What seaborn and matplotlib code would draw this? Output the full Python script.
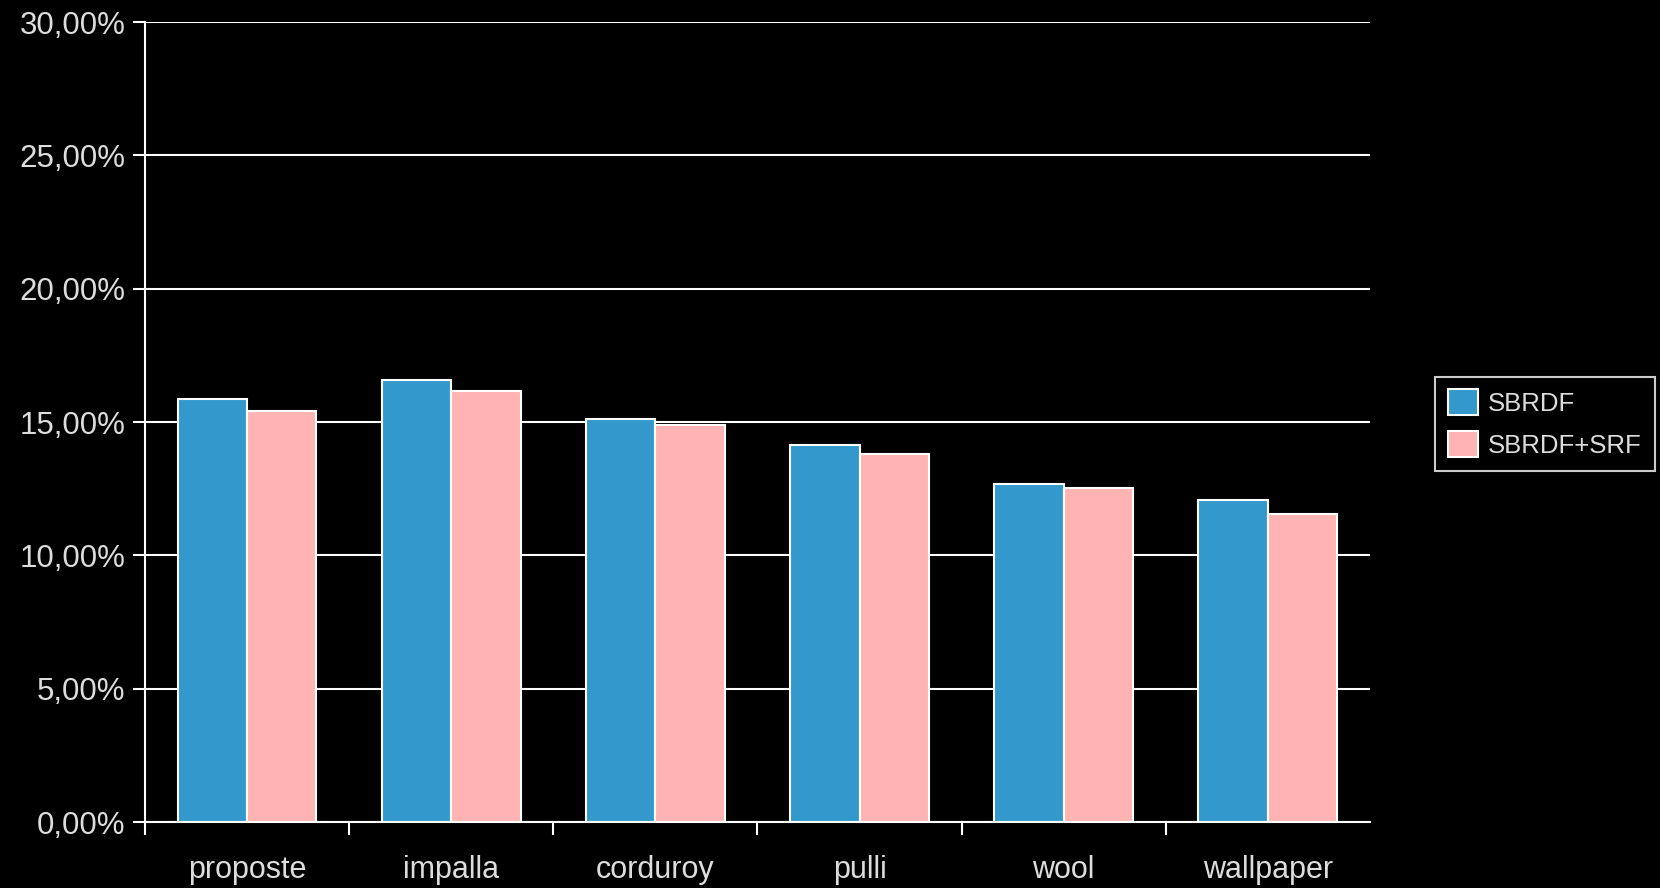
import numpy as np
import pandas as pd
import seaborn as sns
import matplotlib
matplotlib.use("Agg")
from matplotlib import pyplot as plt
from matplotlib.ticker import FuncFormatter, FixedLocator

# values (percent)
materials = ["proposte", "impalla", "corduroy", "pulli", "wool", "wallpaper"]
sbrdf = [15.85, 16.59, 15.11, 14.15, 12.66, 12.06]
sbrdf_srf = [15.42, 16.16, 14.90, 13.80, 12.51, 11.55]
series = ["SBRDF", "SBRDF+SRF"]
yticks = [0, 5, 10, 15, 20, 25, 30]

df = pd.DataFrame({
    "material": materials * 2,
    "method": [series[0]] * len(materials) + [series[1]] * len(materials),
    "error": sbrdf + sbrdf_srf,
})

sns.set_style("dark")
plt.rcParams["font.family"] = ["Liberation Sans", "DejaVu Sans"]
fg = "#dddddd"

fig = plt.figure(figsize=(16.6, 8.88), dpi=100, facecolor="black")
ax = fig.add_axes([0.0873, 0.0743, 0.738, 0.9009])
ax.set_facecolor("black")

sns.barplot(data=df, x="material", y="error", hue="method",
            palette=["#3399cc", "#ffb3b3"], saturation=1, width=0.68, gap=0,
            edgecolor="white", linewidth=1.5, ax=ax, zorder=3)

ax.set_xlim(-0.5, len(materials) - 0.5)
ax.set_ylim(0, 30)
ax.yaxis.set_major_locator(FixedLocator(yticks))
ax.yaxis.set_major_formatter(FuncFormatter(lambda v, p: f"{v:.2f}%".replace(".", ",")))
ax.grid(axis="y", color="white", linewidth=1.5, zorder=0)
ax.grid(axis="x", visible=False)

# labels centred on groups, tick marks between groups (none at the right end)
ax.set_xticks(np.arange(len(materials)))
ax.set_xticklabels(materials)
ax.set_xticks(np.arange(-0.5, len(materials) - 1, 1.0), minor=True)
ax.tick_params(axis="x", which="major", bottom=True, length=0, pad=24,
               labelsize=22, labelcolor=fg)
ax.tick_params(axis="x", which="minor", bottom=True, length=9, width=1.5,
               color="white", direction="out")
ax.tick_params(axis="y", left=True, length=9, width=1.5, color="white",
               direction="out", labelsize=22.5, labelcolor=fg, pad=5)
ax.set_xlabel("")
ax.set_ylabel("")

for side in ["top", "right"]:
    ax.spines[side].set_visible(False)
for side in ["left", "bottom"]:
    ax.spines[side].set_visible(True)
    ax.spines[side].set_color("white")
    ax.spines[side].set_linewidth(1.5)
    ax.spines[side].set_zorder(4)

ax.legend_.remove()
handles, labels = ax.get_legend_handles_labels()
leg = fig.legend(handles, labels, loc="center left", bbox_to_anchor=(0.857, 0.523),
                 fontsize=18.5, frameon=True, fancybox=False, facecolor="black",
                 edgecolor="white", handlelength=1.15, handleheight=1.15,
                 handletextpad=0.4, borderpad=0.5, labelspacing=0.6)
leg.get_frame().set_linewidth(1.5)
for t in leg.get_texts():
    t.set_color(fg)

fig.savefig("out.png", dpi=100, facecolor="black")
